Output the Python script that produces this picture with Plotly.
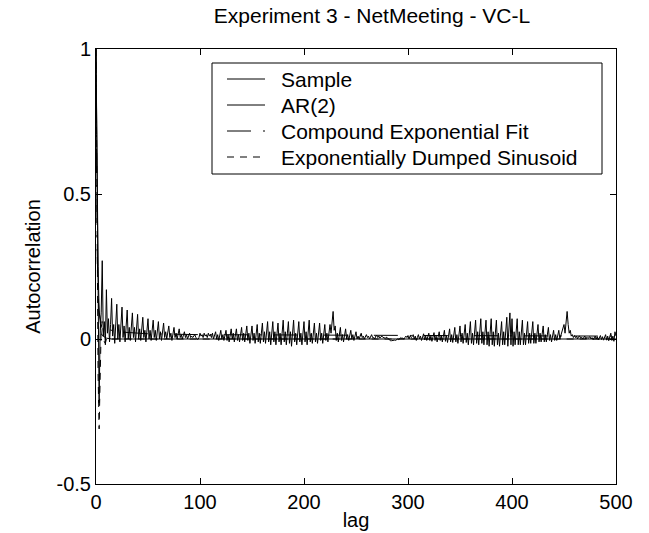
import plotly.graph_objects as go

# ---- data ----
sample_acf = [
    1.0, 0.56, 0.05, -0.22, 0.03, 0.09, 0.27, 0.01, 0.06, -0.02,
    0.17, 0.02, 0.07, -0.01, 0.05, 0.14, 0.01, 0.05, -0.015, 0.04,
    0.12, 0.0, 0.05, -0.01, 0.04, 0.11, 0.005, 0.045, -0.01, 0.035,
    0.10, 0.0, 0.04, -0.005, 0.035, 0.09, 0.005, 0.04, -0.01, 0.03,
    0.085, 0.0, 0.035, -0.005, 0.03, 0.075, 0.005, 0.03, -0.01, 0.03,
    0.07, 0.0, 0.03, -0.005, 0.025, 0.065, 0.005, 0.03, -0.005, 0.025,
    0.06, 0.0, 0.025, -0.005, 0.02, 0.055, 0.005, 0.025, 0.0, 0.02,
    0.045, 0.005, 0.02, -0.005, 0.02, 0.04, 0.005, 0.02, 0.0, 0.015,
    0.035, 0.005, 0.015, 0.0, 0.015, 0.025, 0.005, 0.015, 0.0, 0.01,
    0.02, 0.005, 0.01, 0.005, 0.01, 0.015, 0.005, 0.0, -0.002, 0.005,
    0.02, 0.01, 0.015, 0.005, 0.02, 0.01, 0.015, 0.005, 0.02, 0.01,
    0.015, 0.005, 0.02, 0.0, 0.015, 0.025, 0.0, 0.015, -0.005, 0.01,
    0.03, 0.0, 0.015, -0.005, 0.01, 0.03, -0.005, 0.015, -0.01, 0.01,
    0.035, 0.0, 0.02, -0.01, 0.01, 0.035, -0.005, 0.015, -0.01, 0.015,
    0.04, -0.005, 0.02, -0.01, 0.015, 0.045, -0.005, 0.02, -0.015, 0.015,
    0.045, -0.005, 0.02, -0.015, 0.02, 0.05, -0.01, 0.02, -0.015, 0.02,
    0.055, -0.01, 0.025, -0.015, 0.02, 0.06, -0.01, 0.025, -0.02, 0.02,
    0.06, -0.01, 0.025, -0.02, 0.02, 0.055, -0.01, 0.02, -0.02, 0.025,
    0.065, -0.01, 0.025, -0.02, 0.02, 0.06, -0.015, 0.025, -0.025, 0.02,
    0.065, -0.01, 0.02, -0.02, 0.025, 0.06, -0.01, 0.02, -0.02, 0.02,
    0.06, -0.01, 0.025, -0.02, 0.02, 0.065, -0.01, 0.02, -0.015, 0.02,
    0.055, -0.01, 0.02, -0.015, 0.02, 0.055, -0.005, 0.02, -0.015, 0.015,
    0.05, -0.005, 0.02, -0.01, 0.03, 0.05, 0.02, 0.06, 0.095, 0.03,
    0.045, -0.005, 0.02, -0.01, 0.015, 0.04, -0.005, 0.015, -0.01, 0.015,
    0.035, 0.0, 0.015, -0.005, 0.01, 0.03, 0.0, 0.015, -0.005, 0.01,
    0.025, 0.0, 0.01, 0.0, 0.01, 0.02, 0.005, 0.01, 0.0, 0.01,
    0.015, 0.005, 0.01, 0.0, 0.01, 0.015, 0.005, 0.005, 0.0, 0.01,
    0.012, 0.005, 0.01, 0.003, 0.008, 0.01, 0.005, 0.005, 0.002, 0.006,
    0.005, 0.0, -0.005, -0.006, -0.006, -0.005, -0.006, -0.004, -0.005, -0.003,
    0.0, -0.002, 0.0, 0.005, 0.002, 0.003, 0.0, 0.005, 0.01, 0.005,
    0.012, 0.0, 0.01, 0.005, 0.008, 0.015, 0.0, 0.01, -0.005, 0.005,
    0.015, 0.0, 0.01, -0.005, 0.005, 0.018, -0.003, 0.01, -0.005, 0.008,
    0.02, -0.005, 0.01, -0.008, 0.008, 0.022, -0.005, 0.01, -0.01, 0.01,
    0.025, -0.005, 0.012, -0.01, 0.01, 0.03, -0.008, 0.012, -0.012, 0.012,
    0.035, -0.01, 0.015, -0.012, 0.012, 0.04, -0.01, 0.015, -0.015, 0.015,
    0.045, -0.01, 0.02, -0.015, 0.02, 0.05, -0.012, 0.02, -0.02, 0.02,
    0.06, -0.015, 0.02, -0.02, 0.025, 0.065, -0.015, 0.025, -0.02, 0.02,
    0.07, -0.015, 0.025, -0.02, 0.02, 0.065, -0.02, 0.025, -0.025, 0.025,
    0.07, -0.02, 0.025, -0.025, 0.02, 0.065, -0.02, 0.02, -0.025, 0.025,
    0.06, -0.02, 0.025, -0.02, 0.03, 0.075, -0.025, 0.02, 0.09, -0.02,
    0.07, -0.025, 0.025, -0.02, 0.02, 0.07, -0.02, 0.025, -0.02, 0.02,
    0.065, -0.02, 0.02, -0.02, 0.02, 0.06, -0.015, 0.02, -0.015, 0.02,
    0.06, -0.015, 0.02, -0.015, 0.015, 0.05, -0.01, 0.02, -0.01, 0.015,
    0.045, -0.01, 0.015, -0.01, 0.015, 0.04, -0.005, 0.015, -0.01, 0.01,
    0.03, -0.005, 0.015, -0.005, 0.01, 0.03, 0.0, 0.015, 0.02, 0.04,
    0.05, 0.02, 0.065, 0.095, 0.05, 0.02, 0.03, 0.01, 0.015, 0.005,
    0.012, 0.005, 0.01, 0.0, 0.008, 0.01, 0.003, 0.006, 0.0, 0.005,
    0.01, 0.0, 0.006, 0.002, 0.004, 0.008, 0.0, 0.005, -0.002, 0.004,
    0.01, 0.0, 0.008, -0.003, 0.006, 0.012, -0.002, 0.008, -0.004, 0.006,
    0.015, -0.004, 0.01, -0.006, 0.008, 0.02, -0.005, 0.01, -0.008, 0.025,
    0.01,
]
sample_lags = list(range(len(sample_acf)))

ar2_lags = [0, 1, 2, 3, 4, 5, 6, 8, 10, 15, 20, 500]
ar2_acf = [1.0, 0.57, 0.25, 0.10, 0.04, 0.02, 0.012, 0.006, 0.003, 0.0, 0.0, 0.0]

cef_lags = [0, 1, 2, 3, 5, 10, 20, 50, 100, 200, 300, 400, 500]
cef_acf = [1.0, 0.33, 0.15, 0.09, 0.055, 0.035, 0.025, 0.018, 0.015, 0.013, 0.012, 0.011, 0.010]

eds_lags = [0, 1, 2, 3, 4, 5, 6, 7, 8, 9, 10, 12, 15, 500]
eds_acf = [1.0, 0.42, -0.12, -0.31, -0.12, 0.04, 0.06, 0.02, -0.01, -0.015, 0.0, 0.005, 0.0, 0.0]

series_names = ["Sample", "AR(2)", "Compound Exponential Fit", "Exponentially Dumped Sinusoid"]
series_dash = ["solid", "solid", "24px,12px,2px,12px", "7px,6px"]

y_tickvals = [-0.5, 0, 0.5, 1]
y_ticktext = ["-0.5", "0", "0.5", "1"]
x_tickvals = [0, 100, 200, 300, 400, 500]
x_ticktext = ["0", "100", "200", "300", "400", "500"]

FONT = "Liberation Sans, Arial, sans-serif"
W, H = 649, 533
ML, MR, MT, MB = 96, 33, 49, 49
PW, PH = W - ML - MR, H - MT - MB


def px_x(p):
    return (p - ML) / PW


def px_y(p):
    return (H - MB - p) / PH


fig = go.Figure()
all_x = [sample_lags, ar2_lags, cef_lags, eds_lags]
all_y = [sample_acf, ar2_acf, cef_acf, eds_acf]
for xs, ys, nm, ds in zip(all_x, all_y, series_names, series_dash):
    fig.add_trace(go.Scatter(x=xs, y=ys, mode="lines", name=nm, showlegend=False,
                             line=dict(color="black", width=1, dash=ds)))

axis_common = dict(showline=True, linecolor="black", linewidth=1, mirror="ticks",
                   ticks="inside", ticklen=6, tickcolor="black", tickwidth=1,
                   showgrid=False, zeroline=False, automargin=False,
                   tickfont=dict(family=FONT, size=20, color="black"))

fig.update_xaxes(range=[0, 500], tickvals=x_tickvals, ticktext=x_ticktext,
                 title=dict(text="lag", font=dict(family=FONT, size=20, color="black"), standoff=0),
                 **axis_common)
fig.update_yaxes(range=[-0.5, 1], tickvals=y_tickvals, ticktext=y_ticktext,
                 title=dict(text="Autocorrelation", font=dict(family=FONT, size=20, color="black"), standoff=10),
                 **axis_common)

# legend box (drawn like the original boxed legend)
shapes = [dict(type="rect", xref="paper", yref="paper",
               x0=px_x(212), x1=px_x(602), y0=px_y(174), y1=px_y(63),
               line=dict(color="black", width=1), fillcolor="white", layer="above")]
annotations = []
row_y = [79, 105, 131, 157]
for ry, nm, ds in zip(row_y, series_names, series_dash):
    shapes.append(dict(type="line", xref="paper", yref="paper",
                       x0=px_x(227), x1=px_x(265), y0=px_y(ry), y1=px_y(ry),
                       line=dict(color="black", width=1, dash=ds), layer="above"))
    annotations.append(dict(text=nm, xref="paper", yref="paper", x=px_x(279), y=px_y(ry),
                            xanchor="left", yanchor="middle", showarrow=False,
                            font=dict(family=FONT, size=21, color="black")))

fig.update_layout(
    width=W, height=H,
    margin=dict(l=ML, r=MR, t=MT, b=MB),
    paper_bgcolor="white", plot_bgcolor="white",
    font=dict(family=FONT, size=20, color="black"),
    title=dict(text="Experiment 3 - NetMeeting - VC-L", x=(ML + PW / 2 + 16) / W, xanchor="center",
               y=1 - 16 / H, yanchor="middle", yref="container",
               font=dict(family=FONT, size=21, color="black")),
    showlegend=False,
    shapes=shapes,
    annotations=annotations,
)

fig.write_html("out.html")
